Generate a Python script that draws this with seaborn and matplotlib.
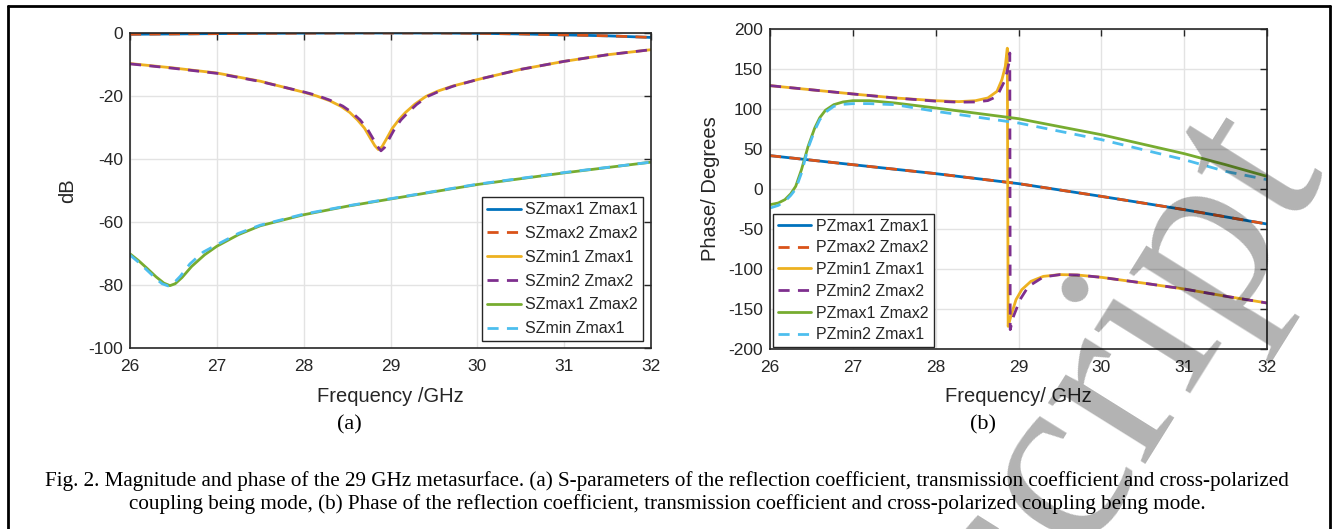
import numpy as np
import pandas as pd
import matplotlib
matplotlib.use("Agg")
import matplotlib.pyplot as plt
import seaborn as sns
from matplotlib.lines import Line2D

# ---------------- data ----------------
# (a) magnitude, dB
a_labels = ["SZmax1 Zmax1", "SZmax2 Zmax2", "SZmin1 Zmax1",
            "SZmin2 Zmax2", "SZmax1 Zmax2", "SZmin Zmax1"]

a_f_refl = [26.0, 26.5, 27.0, 27.5, 28.0, 28.5, 29.0, 29.5, 30.0, 30.5, 31.0, 31.5, 32.0]
a_refl1 = [-0.4, -0.3, -0.2, -0.1, -0.05, 0.0, 0.0, 0.0, -0.1, -0.3, -0.6, -0.9, -1.4]
a_refl2 = [-0.4, -0.3, -0.2, -0.1, -0.05, 0.0, 0.0, 0.0, -0.1, -0.3, -0.6, -0.9, -1.4]

a_f_tr1 = [26.0, 26.5, 27.0, 27.5, 28.0, 28.15, 28.3, 28.43, 28.53, 28.62, 28.7, 28.77,
           28.82, 28.86, 28.9, 28.95, 29.02, 29.1, 29.17, 29.28, 29.41, 29.55, 29.71,
           30.0, 30.49, 31.0, 31.5, 32.0]
a_tr1 = [-9.7, -11.1, -12.7, -15.3, -18.8, -20.0, -21.5, -23.3, -25.2, -27.6, -30.2,
         -33.5, -35.8, -37.0, -36.2, -33.8, -30.3, -27.4, -25.3, -22.6, -20.1, -18.4,
         -16.9, -14.8, -11.6, -9.0, -6.9, -5.3]
a_f_tr2 = [26.0, 26.5, 27.0, 27.5, 28.0, 28.15, 28.3, 28.45, 28.55, 28.65, 28.73, 28.8,
           28.85, 28.89, 28.93, 28.98, 29.05, 29.12, 29.2, 29.3, 29.43, 29.57, 29.72,
           30.0, 30.49, 31.0, 31.5, 32.0]
a_tr2 = [-9.8, -11.2, -12.8, -15.4, -18.7, -19.8, -21.3, -23.2, -25.1, -27.6, -30.3,
         -33.6, -36.0, -37.4, -36.4, -33.8, -30.3, -27.6, -25.3, -22.7, -20.1, -18.4,
         -16.9, -14.8, -11.6, -9.0, -6.9, -5.3]

a_f_x1 = [26.0, 26.1, 26.2, 26.3, 26.39, 26.46, 26.52, 26.6, 26.71, 26.86, 27.0, 27.25,
          27.5, 28.0, 28.5, 29.0, 30.0, 31.0, 32.0]
a_x1 = [-70.1, -72.3, -74.8, -77.4, -79.4, -80.2, -79.6, -77.6, -74.1, -70.4, -67.7,
        -64.0, -61.2, -57.7, -55.0, -52.7, -48.1, -44.4, -41.0]
a_f_x2 = [26.0, 26.1, 26.2, 26.3, 26.37, 26.44, 26.5, 26.58, 26.69, 26.84, 27.0, 27.25,
          27.5, 28.0, 28.5, 29.0, 30.0, 31.0, 32.0]
a_x2 = [-70.5, -72.8, -75.4, -78.0, -79.6, -80.3, -79.5, -77.2, -73.3, -69.6, -67.2,
        -63.6, -61.0, -57.5, -54.9, -52.6, -48.0, -44.3, -41.0]

# (b) phase, degrees
b_labels = ["PZmax1 Zmax1", "PZmax2 Zmax2", "PZmin1 Zmax1",
            "PZmin2 Zmax2", "PZmax1 Zmax2", "PZmin2 Zmax1"]

b_f_refl = [26.0, 27.0, 28.0, 29.0, 30.0, 31.0, 32.0]
b_refl1 = [41.7, 30.4, 19.2, 6.7, -9.2, -25.8, -43.8]
b_refl2 = [41.7, 30.4, 19.2, 6.7, -9.2, -25.8, -43.8]

b_f_tr1 = [26.0, 27.0, 27.51, 28.0, 28.28, 28.48, 28.63, 28.74, 28.8, 28.84, 28.865,
           28.875, 28.9, 28.92, 28.97, 29.04, 29.15, 29.3, 29.5, 29.71, 30.0, 30.5,
           31.0, 31.5, 32.0]
b_tr1 = [129.2, 118.8, 113.8, 110.4, 109.2, 110.4, 113.8, 122.0, 136.7, 153.0, 176.0,
         -171.7, -162.0, -155.0, -138.3, -125.8, -115.4, -109.2, -107.0, -107.5,
         -110.4, -117.5, -125.0, -134.0, -142.5]
b_f_tr2 = [26.0, 27.0, 27.51, 28.0, 28.28, 28.48, 28.63, 28.74, 28.84, 28.885, 28.895,
           28.9, 28.94, 29.02, 29.12, 29.3, 29.5, 29.71, 30.0, 30.5, 31.0, 31.5, 32.0]
b_tr2 = [129.2, 118.8, 113.8, 109.8, 108.5, 108.8, 110.5, 115.8, 136.7, 157.5, 170.0,
         -175.8, -159.0, -138.0, -121.7, -110.0, -107.0, -107.5, -110.4, -117.5,
         -125.0, -134.0, -142.5]

b_f_x = [26.0, 26.1, 26.18, 26.25, 26.31, 26.38, 26.46, 26.54, 26.6, 26.67, 26.77,
         26.88, 27.0, 27.2, 27.51, 28.0, 29.0, 30.0, 31.0, 31.5, 32.0]
b_x1 = [-19.6, -17.5, -13.3, -6.0, 3.3, 24.2, 53.3, 76.3, 89.0, 98.5, 105.4, 108.8,
        110.4, 110.4, 107.5, 101.3, 87.9, 67.9, 44.2, 30.4, 15.8]
b_x2 = [-23.8, -20.5, -15.4, -8.0, 0.0, 20.0, 51.3, 73.3, 86.5, 96.0, 103.3, 105.8,
        106.7, 106.7, 105.4, 97.1, 82.5, 61.7, 36.7, 22.0, 11.7]

x_ticks = [26, 27, 28, 29, 30, 31, 32]
a_yticks = [0, -20, -40, -60, -80, -100]
b_yticks = [200, 150, 100, 50, 0, -50, -100, -150, -200]

caption1 = ("Fig. 2. Magnitude and phase of the 29 GHz metasurface. (a) S-parameters of the "
            "reflection coefficient, transmission coefficient and cross-polarized")
caption2 = ("coupling being mode, (b) Phase of the reflection coefficient, transmission "
            "coefficient and cross-polarized coupling being mode.")

# ---------------- styling ----------------
sns.set_theme(style="white")
plt.rcParams["font.family"] = ["Liberation Sans", "DejaVu Sans"]
plt.rcParams["axes.unicode_minus"] = False

colors = ["#0072BD", "#D95319", "#EDB120", "#7E2F8E", "#77AC30", "#4DBEEE"]
dashed = [False, True, False, True, False, True]
LW = 2.0
DASH = (4, 3)

W, H = 1334, 529
fig = plt.figure(figsize=(W / 100, H / 100), dpi=100)

def px_axes(l, t, r, b):
    return fig.add_axes([l / W, 1 - b / H, (r - l) / W, (b - t) / H])

axA = px_axes(130, 33, 651, 348)
axB = px_axes(770, 29, 1267, 349)

a_series = [(a_f_refl, a_refl1), (a_f_refl, a_refl2), (a_f_tr1, a_tr1),
            (a_f_tr2, a_tr2), (a_f_x1, a_x1), (a_f_x2, a_x2)]
b_series = [(b_f_refl, b_refl1), (b_f_refl, b_refl2), (b_f_tr1, b_tr1),
            (b_f_tr2, b_tr2), (b_f_x, b_x1), (b_f_x, b_x2)]

def draw(ax, series, labels):
    handles = []
    for (f, v), lab, c, d in zip(series, labels, colors, dashed):
        df = pd.DataFrame({"f": f, "v": v})
        sns.lineplot(data=df, x="f", y="v", ax=ax, color=c, lw=LW, sort=False,
                     estimator=None, legend=False)
        ln = ax.lines[-1]
        if d:
            ln.set_dashes(DASH)
        ln.set_solid_capstyle("butt")
        ln.set_dash_capstyle("butt")
        ln.set_solid_joinstyle("round")
        h = Line2D([], [], color=c, lw=LW)
        if d:
            h.set_dashes(DASH)
        handles.append(h)
    return handles

hA = draw(axA, a_series, a_labels)
hB = draw(axB, b_series, b_labels)

for ax, yt, ylim in [(axA, a_yticks, (-100, 0)), (axB, b_yticks, (-200, 200))]:
    ax.set_xlim(26, 32)
    ax.set_ylim(*ylim)
    ax.set_xticks(x_ticks)
    ax.set_yticks(yt)
    ax.grid(True, color="#e3e3e3", lw=1.0)
    ax.set_axisbelow(True)
    for s in ax.spines.values():
        s.set_visible(True)
        s.set_color("#262626")
        s.set_linewidth(1.2)
    ax.tick_params(axis="both", which="both", direction="in", length=5, width=1,
                   top=True, right=True, colors="#262626", labelsize=12.5,
                   labelcolor="#262626")
    ax.tick_params(axis="x", pad=8)
    ax.tick_params(axis="y", pad=5)
    ax.set_facecolor("white")

axA.set_xlabel("Frequency /GHz", fontsize=14.5, color="#262626")
axA.set_ylabel("dB", fontsize=14.5, color="#262626")
axB.set_xlabel("Frequency/ GHz", fontsize=14.5, color="#262626")
axB.set_ylabel("Phase/ Degrees", fontsize=14.5, color="#262626")
for ax, (l, t, r, b), xl_y, yl_x in [(axA, (130, 33, 651, 348), 397, 68),
                                     (axB, (770, 29, 1267, 349), 397, 710)]:
    ax.xaxis.label.set_va("center")
    ax.xaxis.set_label_coords(0.5, (b - xl_y) / (b - t))
    ax.yaxis.label.set_va("center")
    ax.yaxis.set_label_coords((yl_x - l) / (r - l), 0.5)

legkw = dict(fontsize=11.5, frameon=True, fancybox=False, borderaxespad=0,
             borderpad=0.3, handlelength=2.1, handletextpad=0.3,
             bbox_transform=fig.transFigure)
legA = axA.legend(hA, a_labels, loc="lower right", labelspacing=0.55,
                  bbox_to_anchor=(643 / W, 1 - 341 / H), **legkw)
legB = axB.legend(hB, b_labels, loc="lower left", labelspacing=0.42,
                  bbox_to_anchor=(773 / W, 1 - 347 / H), **legkw)
for lg in (legA, legB):
    fr = lg.get_frame()
    fr.set_edgecolor("#262626")
    fr.set_linewidth(1.0)
    fr.set_facecolor("white")
    fr.set_alpha(1)

serif = ["Liberation Serif", "DejaVu Serif"]
fig.text(349 / W, 1 - 425 / H, "(a)", ha="center", va="center", fontsize=16,
         family=serif, color="black")
fig.text(983 / W, 1 - 425 / H, "(b)", ha="center", va="center", fontsize=16,
         family=serif, color="black")
fig.text(0.5, 1 - 481 / H, caption1, ha="center", va="center", fontsize=15.2,
         family=serif, color="black")
fig.text(0.5, 1 - 504 / H, caption2, ha="center", va="center", fontsize=15.2,
         family=serif, color="black")

# watermark
fig.text(1176 / W, 1 - 399 / H, "script", ha="center", va="baseline", rotation=58,
         rotation_mode="anchor", fontsize=180, family=serif, color="black",
         alpha=0.3, zorder=10)

# outer frame
fig.add_artist(Line2D([8 / W, 1330 / W], [1 - 6 / H, 1 - 6 / H], color="black", lw=2,
                      transform=fig.transFigure))
fig.add_artist(Line2D([8 / W, 8 / W], [0, 1 - 6 / H], color="black", lw=2,
                      transform=fig.transFigure))
fig.add_artist(Line2D([1330 / W, 1330 / W], [0, 1 - 6 / H], color="black", lw=2,
                      transform=fig.transFigure))

fig.savefig("out.png", dpi=100, facecolor="white")
